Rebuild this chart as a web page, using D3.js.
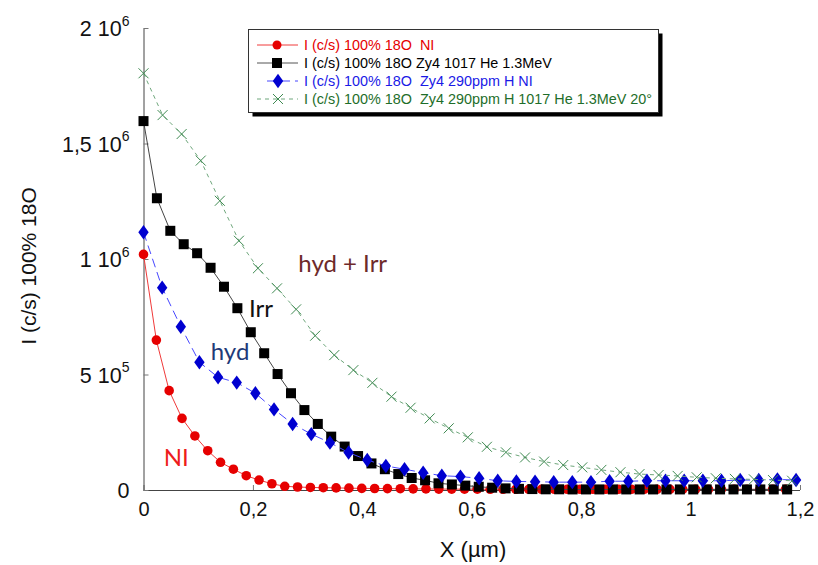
<!DOCTYPE html>
<html><head><meta charset="utf-8">
<script src="https://cdn.jsdelivr.net/npm/d3@7"></script>
<style>
html,body{margin:0;padding:0;background:#fff;}
svg{display:block;font-family:"Liberation Sans",Arial,sans-serif;}
</style></head>
<body>
<svg id="chart" width="818" height="565"></svg>
<script>
// ---------- DATA ----------
const seriesNames = [
  "I (c/s) 100% 18O  NI",
  "I (c/s) 100% 18O Zy4 1017 He 1.3MeV",
  "I (c/s) 100% 18O  Zy4 290ppm H NI",
  "I (c/s) 100% 18O  Zy4 290ppm H 1017 He 1.3MeV 20°"
];
const xNI = [0,0.0235,0.0469,0.0704,0.0939,0.1174,0.1408,0.1643,0.1878,0.2112,0.2347,0.2582,0.2816,0.3051,0.3286,0.3521,0.3755,0.399,0.4225,0.4459,0.4694,0.4929,0.5163,0.5398,0.5633,0.5868,0.6102,0.6337,0.6572,0.6806,0.7041,0.7276,0.751,0.7745,0.798,0.8215,0.8449,0.8684,0.8919,0.9153,0.9388,0.9623,0.9857,1.0092,1.0327,1.0562,1.0796,1.1031,1.1266,1.15,1.1735];
const yNI = [1020000,649000,430000,310000,234000,170000,120000,90000,62000,43000,27000,16000,13000,11000,10000,9000,8000,7000,6500,6000,5500,5000,4500,4000,4000,3500,3500,3000,3000,3000,3000,3000,3000,3000,3000,3000,3000,3000,3000,3000,3000,3000,3000,3000,3000,3000,3000,3000,3000,3000,3000];
const xIrr = [0,0.0245,0.049,0.0735,0.098,0.1226,0.1471,0.1716,0.1961,0.2206,0.2451,0.2696,0.2941,0.3186,0.3431,0.3677,0.3922,0.4167,0.4412,0.4657,0.4902,0.5147,0.5392,0.5637,0.5882,0.6128,0.6373,0.6618,0.6863,0.7108,0.7353,0.7598,0.7843,0.8088,0.8333,0.8579,0.8824,0.9069,0.9314,0.9559,0.9804,1.0049,1.0294,1.0539,1.0784,1.103,1.1275,1.152,1.1765];
const yIrr = [1597000,1263000,1122000,1064000,1025000,962000,880000,787000,683000,592000,502000,419000,346000,286000,231000,188000,147000,115000,90000,69000,52000,42000,29000,24000,19000,14000,10000,7000,5000,4000,3000,3000,2500,2500,2500,2500,2500,2500,2500,2500,2500,2500,2500,2500,2500,2500,2500,2500,2500];
const xHyd = [0,0.0341,0.0682,0.1022,0.1363,0.1704,0.2045,0.2386,0.2726,0.3067,0.3408,0.3749,0.409,0.443,0.4771,0.5112,0.5453,0.5794,0.6134,0.6475,0.6816,0.7157,0.7498,0.7838,0.8179,0.852,0.8861,0.9202,0.9542,0.9883,1.0224,1.0565,1.0906,1.1246,1.1587,1.1928];
const yHyd = [1116000,876000,707000,553000,488000,465000,419000,349000,286000,242000,205000,162000,130000,104000,90000,75000,62000,58000,51000,40000,37000,36000,34000,34000,34000,38000,38000,40000,40000,40000,40000,40000,43000,43000,46000,43000];
const xHydIrr = [0,0.0349,0.0697,0.1046,0.1395,0.1744,0.2092,0.2441,0.279,0.3138,0.3487,0.3836,0.4184,0.4533,0.4882,0.5231,0.5579,0.5928,0.6277,0.6625,0.6974,0.7323,0.7672,0.802,0.8369,0.8718,0.9066,0.9415,0.9764,1.0112,1.0461,1.081,1.1158,1.1507,1.1856];
const yHydIrr = [1804000,1623000,1541000,1426000,1252000,1079000,960000,873000,782000,668000,584000,519000,464000,404000,356000,310000,267000,228000,187000,163000,141000,123000,108000,98000,87000,77000,69000,65000,61000,55000,51000,48000,46000,43000,40000];

const xTickValues = [0,0.2,0.4,0.6,0.8,1,1.2];
const xTickLabels = ["0","0,2","0,4","0,6","0,8","1","1,2"];
const yTickValues = [0,500000,1000000,1500000,2000000];
const yTickMant = ["0","5","1","1,5","2"];
const yTickExp = ["","5","6","6","6"];
const xTitle = "X (µm)";
const yTitle = "I (c/s) 100% 18O";
const annotations = [
  {text:"hyd + Irr", x:0.283, y:945000, color:"#6e2a2a"},
  {text:"Irr", x:0.193, y:750000, color:"#111111"},
  {text:"hyd", x:0.123, y:563000, color:"#1f3a78"},
  {text:"NI", x:0.037, y:105000, color:"#ee1c1c"}
];

// ---------- SCALES ----------
const svg = d3.select("#chart");
const x = d3.scaleLinear().domain([0,1.2]).range([143.5,800]);
const y = d3.scaleLinear().domain([0,2000000]).range([490,28]);

// ---------- AXES ----------
const xAxis = d3.axisBottom(x).tickValues(xTickValues)
  .tickFormat((d,i)=>xTickLabels[i]).tickSizeInner(-5).tickSizeOuter(0).tickPadding(12);
const gx = svg.append("g").attr("transform","translate(0,490)").call(xAxis);
gx.select(".domain").attr("stroke","#444").attr("d","M143.5,0.5H800");
gx.selectAll(".tick line").attr("stroke","#777");
gx.selectAll(".tick text").attr("font-size",20).attr("fill","#111");

const yAxis = d3.axisLeft(y).tickValues(yTickValues)
  .tickFormat(()=> "").tickSizeInner(-5).tickSizeOuter(0).tickPadding(8);
const gy = svg.append("g").attr("transform","translate(143.5,0)").call(yAxis);
gy.select(".domain").attr("stroke","#444");
gy.selectAll(".tick line").attr("stroke","#777");
gy.selectAll(".tick text").each(function(d,i){
  const t = d3.select(this).attr("font-size",21.5).attr("fill","#111").attr("x",-14).attr("dy","0.35em");
  t.text(null);
  t.append("tspan").text(yTickMant[i] + (yTickExp[i] ? " 10" : ""));
  if (yTickExp[i]) t.append("tspan").attr("font-size",14).attr("dy","-0.75em").text(yTickExp[i]);
});

svg.append("text").attr("x",473).attr("y",557).attr("text-anchor","middle")
  .attr("font-size",22).attr("fill","#111").text(xTitle);
svg.append("text").attr("transform","translate(36,266) rotate(-90)").attr("text-anchor","middle")
  .attr("font-size",21).attr("fill","#111").text(yTitle);

// ---------- SERIES ----------
const line = d3.line().x(d=>x(d[0])).y(d=>y(d[1]));
const zip = (a,b)=>a.map((v,i)=>[v,b[i]]);
const dNI = zip(xNI,yNI), dIrr = zip(xIrr,yIrr), dHyd = zip(xHyd,yHyd), dHI = zip(xHydIrr,yHydIrr);

// red NI
svg.append("path").attr("d",line(dNI)).attr("fill","none").attr("stroke","#f03a3a").attr("stroke-width",1);
svg.append("g").selectAll("circle").data(dNI).join("circle")
  .attr("cx",d=>x(d[0])).attr("cy",d=>y(d[1])).attr("r",4.8).attr("fill","#e60000");
// black Irr
svg.append("path").attr("d",line(dIrr)).attr("fill","none").attr("stroke","#444").attr("stroke-width",1);
svg.append("g").selectAll("rect").data(dIrr).join("rect")
  .attr("x",d=>x(d[0])-5).attr("y",d=>y(d[1])-5).attr("width",10).attr("height",10).attr("fill","#000");
// blue hyd
svg.append("path").attr("d",line(dHyd)).attr("fill","none").attr("stroke","#4646ff").attr("stroke-width",1).attr("stroke-dasharray","9,5");
const diamond = d3.symbol().type(d3.symbolDiamond).size(60);
svg.append("g").selectAll("path").data(dHyd).join("path")
  .attr("transform",d=>`translate(${x(d[0])},${y(d[1])}) scale(1.25,1)`).attr("d",diamond).attr("fill","#0000d0");
// green hyd+Irr
svg.append("path").attr("d",line(dHI)).attr("fill","none").attr("stroke","#6fa77c").attr("stroke-width",1).attr("stroke-dasharray","4,4");
const cross = "M-5,-5L5,5M-5,5L5,-5";
svg.append("g").selectAll("path").data(dHI).join("path")
  .attr("transform",d=>`translate(${x(d[0])},${y(d[1])})`).attr("d",cross).attr("fill","none").attr("stroke","#3f8a52").attr("stroke-width",1);

// ---------- ANNOTATIONS ----------
svg.append("g").selectAll("text").data(annotations).join("text")
  .attr("x",d=>x(d.x)).attr("y",d=>y(d.y)).attr("font-family","Lato, 'Open Sans', sans-serif")
  .attr("font-size",24).attr("fill",d=>d.color).text(d=>d.text);

// ---------- LEGEND ----------
const lg = svg.append("g");
lg.append("rect").attr("x",252.5).attr("y",33.5).attr("width",410).attr("height",83).attr("fill","#000");
lg.append("rect").attr("x",248.5).attr("y",29.5).attr("width",410).attr("height",83).attr("fill","#fff").attr("stroke","#333").attr("stroke-width",1);
const legendColors = ["#e60000","#000000","#1a1ae6","#1e6e2a"];
const rowY = [45,63,81,99];
seriesNames.forEach((name,i)=>{
  const ry = rowY[i];
  if (i===0){
    lg.append("line").attr("x1",257).attr("x2",298).attr("y1",ry).attr("y2",ry).attr("stroke","#f03a3a");
    lg.append("circle").attr("cx",277).attr("cy",ry).attr("r",4.5).attr("fill","#e60000");
  } else if (i===1){
    lg.append("line").attr("x1",257).attr("x2",298).attr("y1",ry).attr("y2",ry).attr("stroke","#555");
    lg.append("rect").attr("x",272).attr("y",ry-5).attr("width",10).attr("height",10).attr("fill","#000");
  } else if (i===2){
    lg.append("line").attr("x1",267).attr("x2",298).attr("y1",ry).attr("y2",ry).attr("stroke","#4646ff").attr("stroke-dasharray","9,5");
    lg.append("path").attr("transform",`translate(278,${ry}) scale(1.25,1)`).attr("d",diamond).attr("fill","#0000d0");
  } else {
    lg.append("line").attr("x1",257).attr("x2",298).attr("y1",ry).attr("y2",ry).attr("stroke","#6fa77c").attr("stroke-dasharray","4,4");
    lg.append("path").attr("transform",`translate(278,${ry})`).attr("d",cross).attr("fill","none").attr("stroke","#3f8a52");
  }
  lg.append("text").attr("x",304).attr("y",ry).attr("dy","0.35em").attr("font-size",14.4)
    .attr("fill",legendColors[i]).style("white-space","pre").text(name);
});
</script>
</body></html>
